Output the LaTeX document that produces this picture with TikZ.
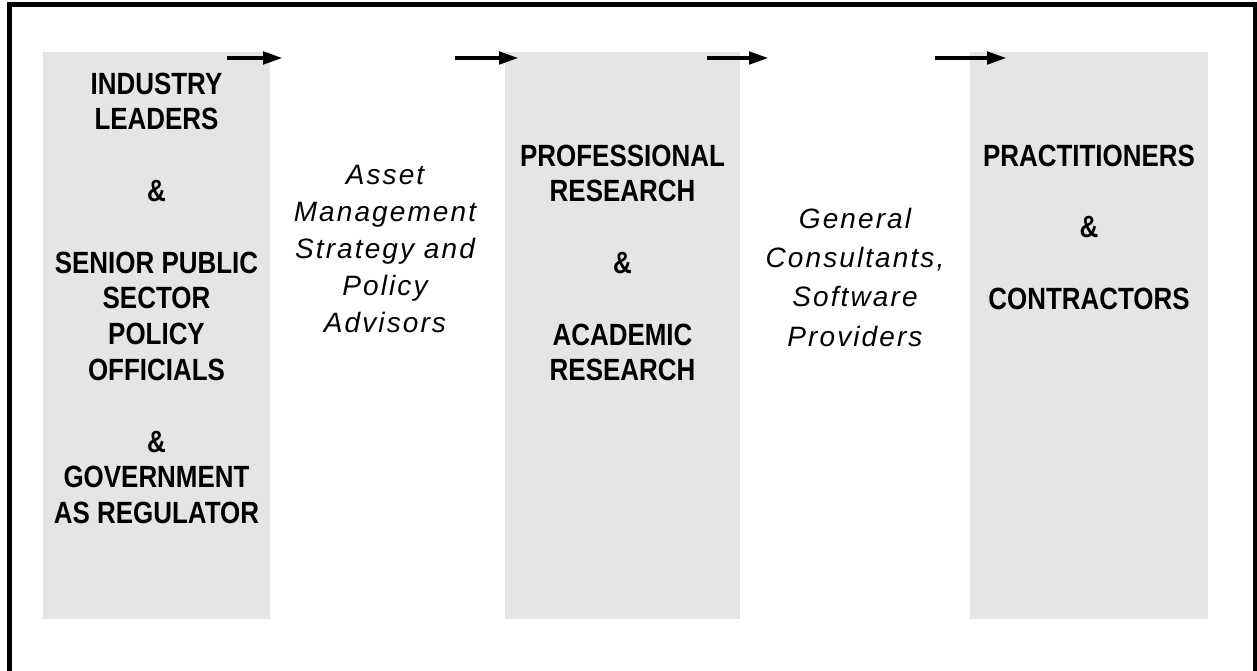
\documentclass[tikz,border=0pt]{standalone}
\usepackage{fontspec}
\setmainfont{Liberation Sans}
\newfontfamily\narrowfont{Liberation Sans}[FakeStretch=0.845]
\newfontfamily\spacedfont{Liberation Sans}[LetterSpace=7.5]
\usetikzlibrary{arrows.meta}
\definecolor{panelgray}{RGB}{229,229,229}
\begin{document}
\begin{tikzpicture}[x=1pt,y=-1pt,
  panel/.style={fill=panelgray, draw=none, inner sep=0pt, outer sep=0pt, anchor=north west},
  % multi-line nodes: the base anchor sits on the last line
  role/.style={font=\narrowfont\bfseries\fontsize{30.7}{35.8}\selectfont, align=center, inner sep=0pt, anchor=base},
  bridge/.style={font=\spacedfont\itshape\fontsize{28}{37}\selectfont, align=center, inner sep=0pt, anchor=base},
  bridgewide/.style={bridge, font=\spacedfont\itshape\fontsize{28}{39.3}\selectfont},
  flow/.style={line width=4.5pt, -{Triangle[length=20pt,width=12pt]}}]
\useasboundingbox (0,0) rectangle (1257,670);

% outer frame (open at the foot)
\draw[line width=5pt] (9.5,672) -- (9.5,4.5) -- (1255,4.5) -- (1255,672);

% shaded stakeholder panels
\node[panel, minimum width=227pt, minimum height=567pt] (p1) at (43,52) {};
\node[panel, minimum width=235pt, minimum height=567pt] (p2) at (505,52) {};
\node[panel, minimum width=238pt, minimum height=567pt] (p3) at (970,52) {};

% panel texts
\node[role] (t1) at (156.5,523.6) {INDUSTRY\\LEADERS\\\mbox{}\\\&\\\mbox{}\\SENIOR PUBLIC\\SECTOR\\POLICY\\OFFICIALS\\\mbox{}\\\&\\GOVERNMENT\\AS REGULATOR};
\node[role] (t2) at (622.5,380.8) {PROFESSIONAL\\RESEARCH\\\mbox{}\\\&\\\mbox{}\\ACADEMIC\\RESEARCH};
\node[role] (t3) at (1089,309.2) {PRACTITIONERS\\\mbox{}\\\&\\\mbox{}\\CONTRACTORS};

% intermediary texts
\node[bridge] (m1) at (385,332) {Asset\\Management\\Strategy and\\Policy\\Advisors};
\node[bridgewide] (m2) at (855,346) {General\\Consultants,\\Software\\Providers};

% flow arrows along the top
\coordinate (a1s) at (227,58); \coordinate (a1e) at (283,58);
\coordinate (a2s) at (455,58); \coordinate (a2e) at (519,58);
\coordinate (a3s) at (707,58); \coordinate (a3e) at (769,58);
\coordinate (a4s) at (935,58); \coordinate (a4e) at (1007,58);
\draw[flow] (a1s) -- (a1e);
\draw[flow] (a2s) -- (a2e);
\draw[flow] (a3s) -- (a3e);
\draw[flow] (a4s) -- (a4e);
\end{tikzpicture}
\end{document}
